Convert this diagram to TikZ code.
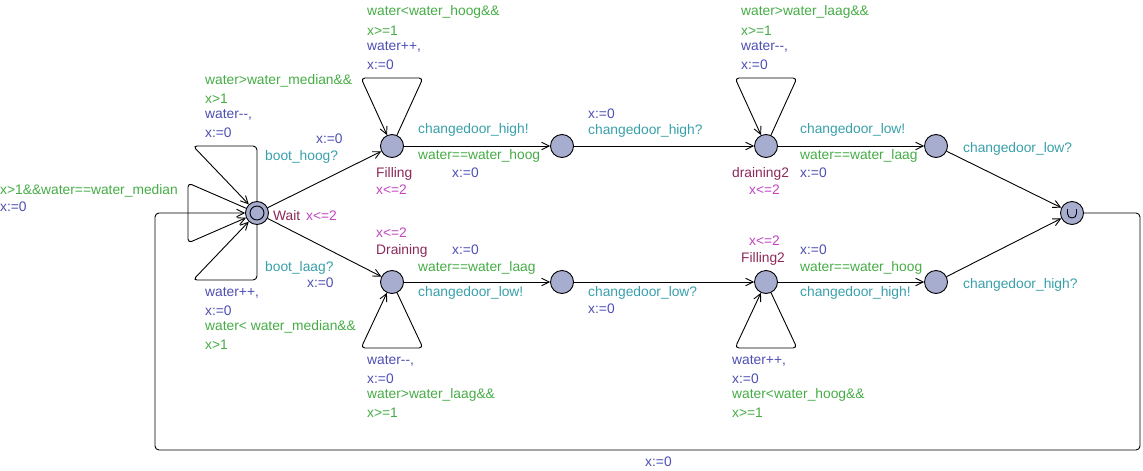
\documentclass[tikz,border=0pt]{standalone}
\usepackage{fontspec}
\setmainfont{Liberation Sans}
\usetikzlibrary{arrows.meta}
\definecolor{guardc}{RGB}{70,172,70}
\definecolor{assignc}{RGB}{78,78,180}
\definecolor{syncc}{RGB}{56,160,170}
\definecolor{namec}{RGB}{140,40,90}
\definecolor{invc}{RGB}{192,70,192}
\definecolor{locfill}{RGB}{166,173,206}
\begin{document}
\begin{tikzpicture}[x=1pt,y=-1pt,
  every node/.style={font=\fontsize{13.8}{16}\selectfont},
  loc/.style={circle,draw,fill=locfill,minimum size=23pt,inner sep=0pt,line width=0.9pt},
  lbl/.style={anchor=base west,inner sep=0pt},
  guard/.style={lbl,text=guardc},
  assign/.style={lbl,text=assignc},
  sync/.style={lbl,text=syncc},
  lname/.style={lbl,text=namec},
  inv/.style={lbl,text=invc},
  trans/.style={line width=0.9pt,-{Straight Barb[length=7.5pt,width=7.5pt]},rounded corners=4pt}]
\useasboundingbox (0,0) rectangle (1143,471);

% locations
\node[loc] (wait) at (257,213) {};
\draw[line width=0.9pt] (wait.center) circle (7pt);
\node[loc] (filling) at (392,146) {};
\node[loc] (hi1) at (562,146) {};
\node[loc] (drain2) at (766,146) {};
\node[loc] (lo2) at (936,146) {};
\node[loc] (drain) at (392,282) {};
\node[loc] (lo1) at (562,282) {};
\node[loc] (fill2) at (766,282) {};
\node[loc] (hi2) at (936,282) {};
\node[loc] (urg) at (1072,213) {};
\draw[line width=0.9pt] ([shift={(-4.5,-4)}]urg.center) -- ++(0,4.5)
  .. controls +(0,6) and +(0,6) .. ++(9,0) -- ++(0,-4.5);

% nails of the self-loops and of the return edge
\coordinate (wt1) at (257,146); \coordinate (wt2) at (193,146);
\coordinate (wm1) at (188,183); \coordinate (wm2) at (188,243);
\coordinate (wb1) at (257,280); \coordinate (wb2) at (193,280);
\coordinate (fl1) at (423,78);  \coordinate (fl2) at (361,78);
\coordinate (dl1) at (797,78);  \coordinate (dl2) at (735,78);
\coordinate (gl1) at (423,348); \coordinate (gl2) at (361,348);
\coordinate (hl1) at (797,348); \coordinate (hl2) at (735,348);
\coordinate (r1) at (1140,213); \coordinate (r2) at (1140,450);
\coordinate (r3) at (155,450);  \coordinate (r4) at (155,213);

% transitions
\draw[trans] (wait.north) -- (wt1) -- (wt2) -- (wait);
\draw[trans] (wait) -- (wm1) -- (wm2) -- (wait);
\draw[trans] (wait.south) -- (wb1) -- (wb2) -- (wait);
\draw[trans] (wait) -- (filling);
\draw[trans] (wait) -- (drain);
\draw[trans] (filling) -- (fl1) -- (fl2) -- (filling);
\draw[trans] (drain2) -- (dl1) -- (dl2) -- (drain2);
\draw[trans] (drain) -- (gl1) -- (gl2) -- (drain);
\draw[trans] (fill2) -- (hl1) -- (hl2) -- (fill2);
\draw[trans] (filling) -- (hi1);
\draw[trans] (hi1) -- (drain2);
\draw[trans] (drain2) -- (lo2);
\draw[trans] (lo2) -- (urg);
\draw[trans] (drain) -- (lo1);
\draw[trans] (lo1) -- (fill2);
\draw[trans] (fill2) -- (hi2);
\draw[trans] (hi2) -- (urg);
\draw[trans] (urg) -- (r1) -- (r2) -- (r3) -- (r4) -- (wait);

% labels around Wait
\node[guard]  (a1) at (205,84)  {water>water\_median\&\&};
\node[guard]  (a2) at (205,103) {x>1};
\node[assign] (a3) at (205,118) {water-{}-,};
\node[assign] (a4) at (205,137) {x:=0};
\node[assign] (a5) at (316,143) {x:=0};
\node[sync]   (a6) at (265,160) {boot\_hoog?};
\node[guard]  (a7) at (0,194)   {x>1\&\&water==water\_median};
\node[assign] (a8) at (0,211)   {x:=0};
\node[lname]  (a9) at (273,220) {Wait};
\node[inv]    (a10) at (306,220) {x<=2};
\node[sync]   (a11) at (265,271) {boot\_laag?};
\node[assign] (a12) at (307,287) {x:=0};
\node[assign] (a13) at (205,296) {water++,};
\node[assign] (a14) at (205,315) {x:=0};
\node[guard]  (a15) at (205,330) {water< water\_median\&\&};
\node[guard]  (a16) at (205,349) {x>1};

% labels around Filling
\node[guard]  (b1) at (367,16)  {water<water\_hoog\&\&};
\node[guard]  (b2) at (367,35)  {x>=1};
\node[assign] (b3) at (367,50)  {water++,};
\node[assign] (b4) at (367,69)  {x:=0};
\node[sync]   (b5) at (418,133) {changedoor\_high!};
\node[guard]  (b6) at (418,159) {water==water\_hoog};
\node[assign] (b7) at (452,177) {x:=0};
\node[lname]  (b8) at (376,177) {Filling};
\node[inv]    (b9) at (376,194) {x<=2};
\node[assign] (b10) at (588,118) {x:=0};
\node[sync]   (b11) at (588,134) {changedoor\_high?};

% labels around draining2
\node[guard]  (c1) at (741,16)  {water>water\_laag\&\&};
\node[guard]  (c2) at (741,35)  {x>=1};
\node[assign] (c3) at (741,50)  {water-{}-,};
\node[assign] (c4) at (741,69)  {x:=0};
\node[sync]   (c5) at (800,133) {changedoor\_low!};
\node[guard]  (c6) at (800,159) {water==water\_laag};
\node[assign] (c7) at (800,177) {x:=0};
\node[lname]  (c8) at (732,177) {draining2};
\node[inv]    (c9) at (749,194) {x<=2};
\node[sync]   (c10) at (963,152) {changedoor\_low?};
\node[sync]   (c11) at (963,288) {changedoor\_high?};

% labels around Draining
\node[inv]    (d1) at (376,237) {x<=2};
\node[lname]  (d2) at (376,254) {Draining};
\node[assign] (d3) at (452,254) {x:=0};
\node[guard]  (d4) at (418,271) {water==water\_laag};
\node[sync]   (d5) at (418,296) {changedoor\_low!};
\node[assign] (d6) at (367,364) {water-{}-,};
\node[assign] (d7) at (367,383) {x:=0};
\node[guard]  (d8) at (367,398) {water>water\_laag\&\&};
\node[guard]  (d9) at (367,417) {x>=1};
\node[sync]   (d10) at (588,296) {changedoor\_low?};
\node[assign] (d11) at (588,313) {x:=0};

% labels around Filling2
\node[inv]    (e1) at (749,245) {x<=2};
\node[lname]  (e2) at (741,262) {Filling2};
\node[assign] (e3) at (800,254) {x:=0};
\node[guard]  (e4) at (800,271) {water==water\_hoog};
\node[sync]   (e5) at (800,296) {changedoor\_high!};
\node[assign] (e6) at (732,364) {water++,};
\node[assign] (e7) at (732,383) {x:=0};
\node[guard]  (e8) at (732,398) {water<water\_hoog\&\&};
\node[guard]  (e9) at (732,417) {x>=1};

% return edge
\node[assign] (f1) at (645,466) {x:=0};
\end{tikzpicture}
\end{document}
